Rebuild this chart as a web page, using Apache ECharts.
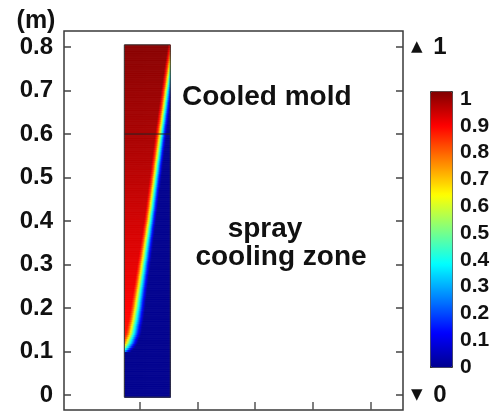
<!DOCTYPE html>
<html>
<head>
<meta charset="utf-8">
<title>Cooled mold / spray cooling zone</title>
<script src="https://cdn.jsdelivr.net/npm/echarts@6.0.0/dist/echarts.min.js"></script>
<style>
html, body { margin: 0; padding: 0; background: #fff; }
#chart { width: 494px; height: 417px; }
</style>
</head>
<body>
<div id="chart"></div>
<script>
// strand section (x in plot units, y in m)
var domX = [0.0741, 0.1534];
var domY = [-0.005, 0.805];
var moldLineY = 0.6;

// 0.5 contour of the front
var frontY = [0.100, 0.110, 0.122, 0.143, 0.182, 0.218, 0.322, 0.414, 0.517, 0.600, 0.678, 0.754, 0.805];
var frontX = [0.068, 0.0755, 0.0815, 0.0875, 0.0935, 0.0975, 0.109, 0.119, 0.129, 0.137, 0.145, 0.153, 0.159];

// value across the front, by offset from the 0.5 contour
var profOff = [-0.012, -0.008, -0.005, -0.0025, 0, 0.0025, 0.005, 0.008, 0.011];
var profVal = [1, 0.88, 0.78, 0.65, 0.5, 0.36, 0.24, 0.1, 0];

// hot side value and band width factor, bottom to top
var sideY = [0.10, 0.15, 0.25, 0.40, 0.60, 0.80];
var sideV = [0.82, 0.86, 0.89, 0.92, 0.96, 0.99];
var bandK = [1.5, 1.4, 1.2, 1.0, 0.9, 0.8];

var xTicks = [0.1, 0.2, 0.3, 0.4, 0.5];
var yTicks = [0, 0.1, 0.2, 0.3, 0.4, 0.5, 0.6, 0.7, 0.8];
var endTicks = [0, 0.8];
var barTicks = [0, 0.1, 0.2, 0.3, 0.4, 0.5, 0.6, 0.7, 0.8, 0.9, 1];
var jet = ['#00008f', '#0000ff', '#0080ff', '#00ffff', '#80ff80', '#ffff00', '#ff8000', '#ff0000', '#800000'];

function lookup(xs, ys, t) {
  if (t <= xs[0]) return ys[0];
  for (var i = 1; i < xs.length; i++) {
    if (t <= xs[i]) return ys[i - 1] + (ys[i] - ys[i - 1]) * (t - xs[i - 1]) / (xs[i] - xs[i - 1]);
  }
  return ys[ys.length - 1];
}

// cells of the field
var cells = [];
var nx = 46, dy = 0.005;
var cw = (domX[1] - domX[0]) / nx;
for (var y = domY[0]; y < domY[1] - 1e-9; y += dy) {
  var yc = y + dy / 2;
  var f = yc >= frontY[0] ? lookup(frontY, frontX, yc) : null;
  for (var i = 0; i < nx; i++) {
    var x0 = domX[0] + i * cw, xc = x0 + cw / 2;
    var v = 0;
    if (f !== null) {
      v = Math.min(lookup(profOff, profVal, (xc - f) / lookup(sideY, bandK, yc)), lookup(sideY, sideV, yc));
    }
    cells.push([x0, x0 + cw, y, Math.min(y + dy, domY[1]), v]);
  }
}

function renderCell(params, api) {
  var p0 = api.coord([api.value(0), api.value(3)]);
  var p1 = api.coord([api.value(1), api.value(2)]);
  return {
    type: 'rect',
    shape: { x: p0[0], y: p0[1], width: p1[0] - p0[0] + 0.6, height: p1[1] - p0[1] + 0.6 },
    style: { fill: api.visual('color') }
  };
}

var boldFont = 'bold 28px "Liberation Sans", Arial, sans-serif';

var option = {
  animation: false,
  textStyle: { fontFamily: 'Liberation Sans, Arial, sans-serif' },
  grid: [
    { left: 64, top: 31, width: 339, height: 379, show: true, borderColor: '#3a3a3a', borderWidth: 1.5 },
    { left: 430, top: 91, width: 22, height: 276 }
  ],
  xAxis: [
    {
      gridIndex: 0, type: 'value', min: -0.03, max: 0.555,
      axisLine: { show: false, onZero: false }, splitLine: { show: false }, axisLabel: { show: false },
      axisTick: { show: true, inside: true, length: 8, customValues: xTicks, lineStyle: { color: '#555', width: 1.5 } }
    },
    { gridIndex: 1, type: 'value', min: 0, max: 1, show: false }
  ],
  yAxis: [
    {
      gridIndex: 0, type: 'value', min: -0.0345, max: 0.8368, position: 'left',
      axisLine: { show: false, onZero: false }, splitLine: { show: false },
      axisTick: { show: true, inside: true, length: 7, customValues: yTicks, lineStyle: { color: '#444', width: 1.5 } },
      axisLabel: {
        customValues: yTicks, fontSize: 24, fontWeight: 'bold', color: '#111', margin: 11,
        formatter: function (v) { return v === 0 ? '0' : v.toFixed(1); }
      }
    },
    {
      gridIndex: 0, type: 'value', min: -0.0345, max: 0.8368, position: 'right',
      axisLine: { show: false, onZero: false }, splitLine: { show: false },
      axisTick: { show: true, inside: true, length: 7, customValues: yTicks, lineStyle: { color: '#444', width: 1.5 } },
      axisLabel: {
        customValues: endTicks, fontSize: 24, fontWeight: 'bold', color: '#111', margin: 8,
        formatter: function (v) { return v > 0.5 ? '{t|\u25B2} 1' : '{t|\u25BC} 0'; },
        rich: { t: { fontSize: 15, fontFamily: 'DejaVu Sans', color: '#111', padding: [0, 4, 0, 0] } }
      }
    },
    {
      gridIndex: 1, type: 'value', min: 0, max: 1.03, position: 'right',
      axisLine: { show: false, onZero: false }, splitLine: { show: false },
      axisTick: { show: true, inside: true, length: 3, customValues: barTicks, lineStyle: { color: '#333' } },
      axisLabel: { customValues: barTicks, fontSize: 21, fontWeight: 'bold', color: '#111', margin: 8 }
    },
    {
      gridIndex: 1, type: 'value', min: 0, max: 1.03, position: 'left',
      axisLine: { show: false, onZero: false }, splitLine: { show: false }, axisLabel: { show: false },
      axisTick: { show: true, inside: true, length: 3, customValues: barTicks, lineStyle: { color: '#333' } }
    }
  ],
  visualMap: {
    type: 'continuous', min: 0, max: 1, dimension: 4, seriesIndex: [0],
    show: true, calculable: false, hoverLink: false,
    left: 430, top: 91, itemWidth: 22, itemHeight: 276, padding: 0,
    borderWidth: 1, borderColor: '#333', text: null,
    inRange: { color: jet }
  },
  graphic: [
    { type: 'text', style: { text: '(m)', x: 36, y: 21, fill: '#111', font: 'bold 25px "Liberation Sans", Arial, sans-serif', align: 'center', verticalAlign: 'middle' } },
    { type: 'text', style: { text: 'Cooled mold', x: 182, y: 97, fill: '#111', font: boldFont, verticalAlign: 'middle' } },
    { type: 'text', style: { text: 'spray', x: 265, y: 229, fill: '#111', font: boldFont, align: 'center', verticalAlign: 'middle' } },
    { type: 'text', style: { text: 'cooling zone', x: 281, y: 257, fill: '#111', font: boldFont, align: 'center', verticalAlign: 'middle' } }
  ],
  series: [
    {
      type: 'custom', xAxisIndex: 0, yAxisIndex: 0, renderItem: renderCell,
      encode: { x: [0, 1], y: [2, 3] }, data: cells, silent: true
    },
    {
      type: 'line', xAxisIndex: 0, yAxisIndex: 0, symbol: 'none', silent: true,
      lineStyle: { color: '#222', width: 1.2 },
      data: [[domX[0], moldLineY], [domX[1], moldLineY]]
    },
    {
      type: 'line', xAxisIndex: 0, yAxisIndex: 0, symbol: 'none', silent: true,
      lineStyle: { color: '#333', width: 1 },
      data: [[domX[0], domY[0]], [domX[1], domY[0]], [domX[1], domY[1]], [domX[0], domY[1]], [domX[0], domY[0]]]
    }
  ]
};

var myChart = echarts.init(document.getElementById('chart'));
myChart.setOption(option);
</script>
</body>
</html>
